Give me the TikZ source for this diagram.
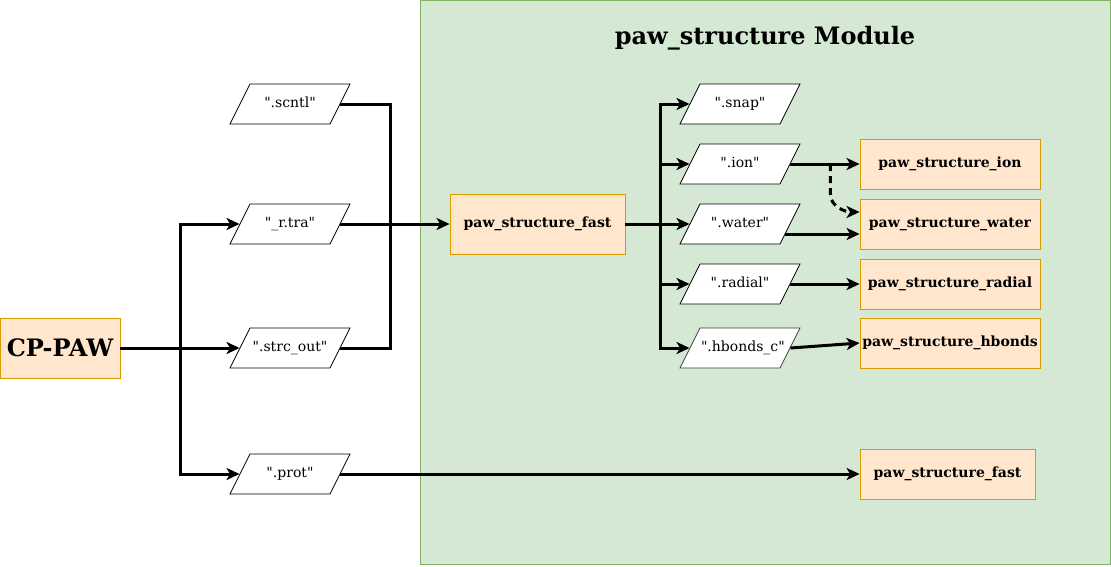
\documentclass[tikz,border=0pt]{standalone}
\usepackage{fontspec}
\setmainfont{DejaVu Serif}[Ligatures=TeXOff]
\usepackage{tikz}
\usetikzlibrary{arrows.meta,shapes.geometric,positioning,calc}

\definecolor{modfill}{HTML}{D5E8D4}
\definecolor{moddraw}{HTML}{82B366}
\definecolor{boxfill}{HTML}{FFE6CC}
\definecolor{boxdraw}{HTML}{D79B00}

\begin{document}
\begin{tikzpicture}[x=1pt, y=-1pt,
    module/.style={rectangle, fill=modfill, draw=moddraw, line width=0.8pt, minimum width=690, minimum height=564, inner sep=0},
    progbox/.style={rectangle, fill=boxfill, draw=boxdraw, line width=0.8pt, minimum height=60, inner sep=1pt, font=\fontsize{14}{16}\selectfont\bfseries},
    filebox/.style={trapezium, trapezium left angle=63.43, trapezium right angle=116.57, trapezium stretches body=true, fill=white, draw=black, line width=0.8pt, minimum width=120, text width=78pt, align=center, text height=10pt, text depth=3pt, inner ysep=13.5pt, inner xsep=1pt, font=\fontsize{14}{16}\selectfont},
    link/.style={line width=3pt},
    arr/.style={link, -{Stealth[length=13pt, width=12pt, inset=3.5pt]}}]
                \useasboundingbox (0,0) rectangle (1111,566);
                % module frame
                \node[module] (Mod) at (765,282) {};
                \node[font=\fontsize{24}{28}\selectfont\bfseries] (Title) at (765,38) {paw\_structure Module};
                % left part
                \node[progbox, minimum width=120, font=\fontsize{24}{28}\selectfont\bfseries] (CP) at (60,348) {CP-PAW};
                \node[filebox] (Scntl) at (290,104) {".scntl"};
                \node[filebox] (Rtra) at (290,224) {"\_r.tra"};
                \node[filebox] (Strc) at (290,348) {".strc\_out"};
                \node[filebox] (Prot) at (290,474) {".prot"};
                \node[progbox, minimum width=175] (Fast) at (537.5,224) {paw\_structure\_fast};
                % outputs of paw_structure_fast
                \node[filebox] (Snap) at (740,104) {".snap"};
                \node[filebox] (Ion) at (740,164) {".ion"};
                \node[filebox] (Water) at (740,224) {".water"};
                \node[filebox] (Radial) at (740,284) {".radial"};
                \node[filebox, draw=black!75] (Hb) at (740,348) {".hbonds\_c"};
                \node[progbox, minimum width=180, minimum height=50] (IonB) at (950,164) {paw\_structure\_ion};
                \node[progbox, minimum width=180, minimum height=50] (WaterB) at (950,224) {paw\_structure\_water};
                \node[progbox, minimum width=180, minimum height=50] (RadialB) at (950,284) {paw\_structure\_radial};
                \node[progbox, minimum width=180, minimum height=50] (HbB) at (950,343) {paw\_structure\_hbonds};
                \node[progbox, minimum width=175, minimum height=50] (Fast2) at (947.5,474) {paw\_structure\_fast};
                % connectors
                \draw[arr] (CP.east) -- (Strc.left side);
                \draw[arr] ([xshift=60]CP.east) |- (Rtra.left side);
                \draw[arr] ([xshift=60]CP.east) |- (Prot.left side);
                \draw[link] (Scntl.right side) -- ++(50,0) |- (Strc.right side);
                \draw[arr] (Rtra.right side) -- (Fast.west);
                \draw[arr] (Prot.right side) -- (Fast2.west);
                \draw[arr] (Fast.east) -- (Water.left side);
                \draw[arr] ([xshift=35]Fast.east) |- (Snap.left side);
                \draw[arr] ([xshift=35]Fast.east) |- (Ion.left side);
                \draw[arr] ([xshift=35]Fast.east) |- (Radial.left side);
                \draw[arr] ([xshift=35]Fast.east) |- (Hb.left side);
                \draw[arr] (Ion.right side) -- (IonB.west);
                \draw[arr, dash pattern=on 7pt off 5pt] ([xshift=40]Ion.right side) -- ++(0,30) to[out=-90, in=180] ([yshift=12]WaterB.west);
                \draw[arr] ([xshift=-5, yshift=-10]Water.right side) -- ([yshift=-10]WaterB.west);
                \draw[arr] (Radial.right side) -- (RadialB.west);
                \draw[arr] (Hb.right side) -- (HbB.west);
            \end{tikzpicture}
\end{document}
